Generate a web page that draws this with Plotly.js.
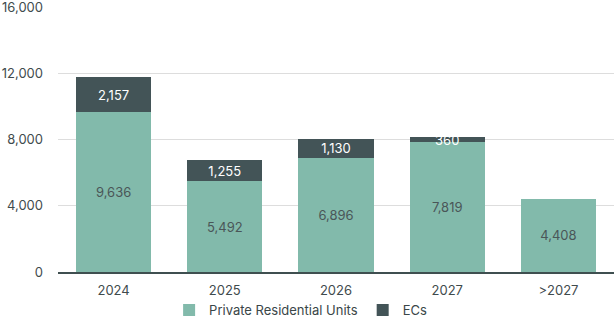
<!DOCTYPE html>
<html>
<head>
<meta charset="utf-8">
<script src="https://cdn.plot.ly/plotly-3.0.1.min.js"></script>
<style>html,body{margin:0;padding:0;background:#fff;}#chart{width:616px;height:317px;}</style>
</head>
<body>
<div id="chart"></div>
<script>
// Supply pipeline by expected completion year
const years = ['2024', '2025', '2026', '2027', '>2027'];
const privateUnits = [9636, 5492, 6896, 7819, 4408];
const ecUnits = [2157, 1255, 1130, 360, 0];
const yTicks = [0, 4000, 8000, 12000, 16000];

const fmt = v => v.toLocaleString('en-US');
const font = 'Inter, "Open Sans", sans-serif';

const traces = [
  {
    type: 'bar', name: 'Private Residential Units', x: years, y: privateUnits,
    marker: {color: '#82baab'},
    text: privateUnits.map(fmt), textposition: 'inside', insidetextanchor: 'middle',
    constraintext: 'none',
    textfont: {family: font, size: 13, color: '#4a5658'},
    hoverinfo: 'skip'
  },
  {
    type: 'bar', name: 'ECs', x: years, y: ecUnits,
    marker: {color: '#435457'},
    text: ecUnits.map(v => v ? fmt(v) : ''), textposition: 'inside', insidetextanchor: 'middle',
    constraintext: 'none',
    textfont: {family: font, size: 13, color: '#ffffff'},
    hoverinfo: 'skip'
  }
];

const layout = {
  width: 616, height: 317,
  margin: {l: 58, r: 2, t: 6, b: 45},
  barmode: 'stack', bargap: 0.325,
  paper_bgcolor: '#fff', plot_bgcolor: '#fff',
  font: {family: font, size: 13, color: '#3f4b4d'},
  showlegend: true,
  legend: {
    orientation: 'h', xref: 'container', x: 0.488, xanchor: 'center',
    yref: 'container', y: 0.022, yanchor: 'middle',
    font: {family: font, size: 13, color: '#3a4648'},
    itemwidth: 30, traceorder: 'normal'
  },
  xaxis: {
    type: 'category', showgrid: false, ticks: '', showline: true,
    linecolor: '#3f4f50', linewidth: 1.5, ticklabelstandoff: 6,
    tickfont: {family: font, size: 13, color: '#3f4b4d'}
  },
  yaxis: {
    range: [0, 16060], tickvals: yTicks, ticktext: yTicks.map(fmt),
    showgrid: true, gridcolor: '#dddddd', gridwidth: 1, zeroline: false,
    showline: false, ticks: '', ticklabelstandoff: 14, ticklabeloverflow: 'allow',
    tickfont: {family: font, size: 13, color: '#3f4b4d'}
  }
};

Plotly.newPlot('chart', traces, layout, {displayModeBar: false, staticPlot: true});
</script>
</body>
</html>
